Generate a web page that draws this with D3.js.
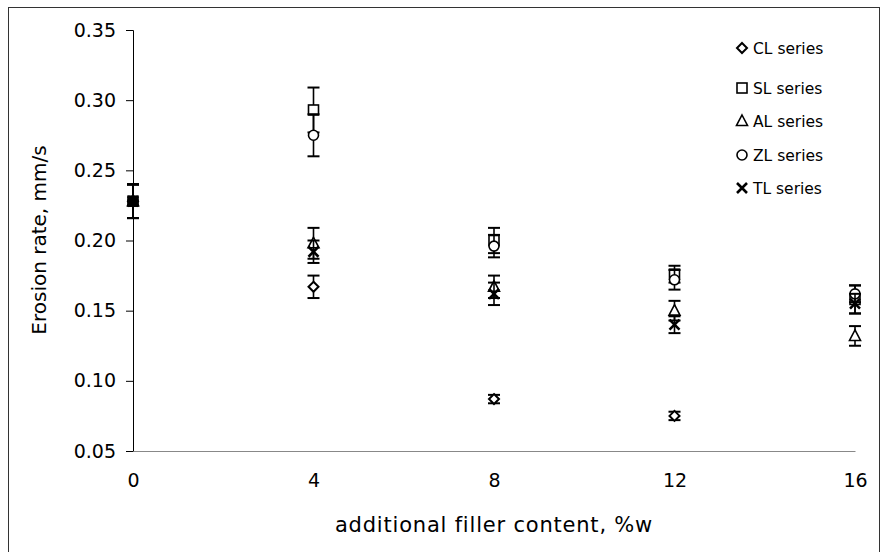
<!DOCTYPE html>
<html>
<head>
<meta charset="utf-8">
<script src="https://cdn.jsdelivr.net/npm/d3@7"></script>
<style>
  body { margin: 0; background: #fff; }
  text { font-family: "DejaVu Sans", sans-serif; fill: #000; }
</style>
</head>
<body>
<svg width="883" height="552"></svg>
<script>
// filler content (x) and erosion rate per series, with error half-widths
const fillers = [0, 4, 8, 12, 16];
const seriesNames = ['CL series', 'SL series', 'AL series', 'ZL series', 'TL series'];
const clValues = [0.228, 0.167, 0.087, 0.075, null];
const clErrors = [0.012, 0.008, 0.003, 0.003, null];
const slValues = [0.228, 0.293, 0.200, 0.176, 0.158];
const slErrors = [0.012, 0.016, 0.009, 0.006, 0.010];
const alValues = [0.228, 0.198, 0.167, 0.150, 0.132];
const alErrors = [0.012, 0.011, 0.008, 0.007, 0.007];
const zlValues = [0.228, 0.275, 0.196, 0.172, 0.162];
const zlErrors = [0.012, 0.015, 0.008, 0.007, 0.006];
const tlValues = [0.228, 0.192, 0.162, 0.140, 0.155];
const tlErrors = [0.012, 0.008, 0.008, 0.006, 0.007];
const yTicks = [0.05, 0.10, 0.15, 0.20, 0.25, 0.30, 0.35];
const xTicks = [0, 4, 8, 12, 16];

const svg = d3.select('svg');

// outer frame
svg.append('rect')
  .attr('x', 8.5).attr('y', 7.5)
  .attr('width', 871).attr('height', 550)
  .attr('fill', 'none').attr('stroke', '#333').attr('stroke-width', 1);

const x = d3.scaleLinear().domain([0, 16]).range([133, 855]);
const y = d3.scaleLinear().domain([0.05, 0.35]).range([451, 30]);

// y axis
const yAxis = svg.append('g')
  .attr('transform', 'translate(133,0)')
  .call(d3.axisLeft(y).tickValues(yTicks).tickFormat(d3.format('.2f')).tickSize(7).tickPadding(10));
yAxis.select('.domain').attr('stroke', '#000');
yAxis.selectAll('text').style('font-size', '19px');

// x axis
const xAxis = svg.append('g')
  .attr('transform', 'translate(0,451)')
  .call(d3.axisBottom(x).tickValues(xTicks).tickSize(0).tickPadding(23));
xAxis.select('.domain').attr('stroke', '#888');
xAxis.selectAll('text').style('font-size', '19px');

svg.append('text')
  .attr('transform', 'translate(46,240) rotate(-90)')
  .attr('text-anchor', 'middle')
  .style('font-size', '20px')
  .text('Erosion rate, mm/s');

svg.append('text')
  .attr('x', 494).attr('y', 532)
  .attr('text-anchor', 'middle')
  .style('font-size', '21px')
  .style('letter-spacing', '0.8px')
  .text('additional filler content, %w');

const series = [
  {name: seriesNames[0], values: clValues, errors: clErrors, shape: 'diamond'},
  {name: seriesNames[1], values: slValues, errors: slErrors, shape: 'square'},
  {name: seriesNames[2], values: alValues, errors: alErrors, shape: 'triangle'},
  {name: seriesNames[3], values: zlValues, errors: zlErrors, shape: 'circle'},
  {name: seriesNames[4], values: tlValues, errors: tlErrors, shape: 'cross'},
];

function drawMarker(g, shape, cx, cy, filled) {
  const fill = filled ? '#000' : '#fff';
  if (shape === 'diamond') {
    g.append('path').attr('d', `M${cx},${cy-5}L${cx+5},${cy}L${cx},${cy+5}L${cx-5},${cy}Z`)
      .attr('fill', fill).attr('stroke', '#000').attr('stroke-width', 2);
  } else if (shape === 'square') {
    g.append('rect').attr('x', cx - 5).attr('y', cy - 5).attr('width', 10).attr('height', 10)
      .attr('fill', fill).attr('stroke', '#000').attr('stroke-width', 1.6);
  } else if (shape === 'triangle') {
    g.append('path').attr('d', `M${cx},${cy-6}L${cx+5.5},${cy+4.5}L${cx-5.5},${cy+4.5}Z`)
      .attr('fill', fill).attr('stroke', '#000').attr('stroke-width', 1.6);
  } else if (shape === 'circle') {
    g.append('circle').attr('cx', cx).attr('cy', cy).attr('r', 5)
      .attr('fill', fill).attr('stroke', '#000').attr('stroke-width', 1.6);
  } else {
    g.append('path').attr('d', `M${cx-5},${cy-5}L${cx+5},${cy+5}M${cx-5},${cy+5}L${cx+5},${cy-5}`)
      .attr('stroke', '#000').attr('stroke-width', 2.6);
  }
}

const marks = svg.append('g');
series.forEach(s => {
  s.values.forEach((v, i) => {
    if (v == null) return;
    const cx = x(fillers[i]);
    const e = s.errors[i];
    const g = marks.append('g');
    g.append('line').attr('x1', cx).attr('x2', cx).attr('y1', y(v + e)).attr('y2', y(v - e))
      .attr('stroke', '#000').attr('stroke-width', 1.6);
    [v + e, v - e].forEach(b => {
      g.append('line').attr('x1', cx - 6).attr('x2', cx + 6).attr('y1', y(b)).attr('y2', y(b))
        .attr('stroke', '#000').attr('stroke-width', 2);
    });
    drawMarker(g, s.shape, cx, y(v), fillers[i] === 0);
  });
});

// legend
const legendY = [48, 88, 121, 155, 188];
const legend = svg.append('g');
series.forEach((s, i) => {
  drawMarker(legend, s.shape, 742, legendY[i], false);
  legend.append('text').attr('x', 753).attr('y', legendY[i] + 5.5)
    .style('font-size', '15.5px').text(s.name);
});
</script>
</body>
</html>
